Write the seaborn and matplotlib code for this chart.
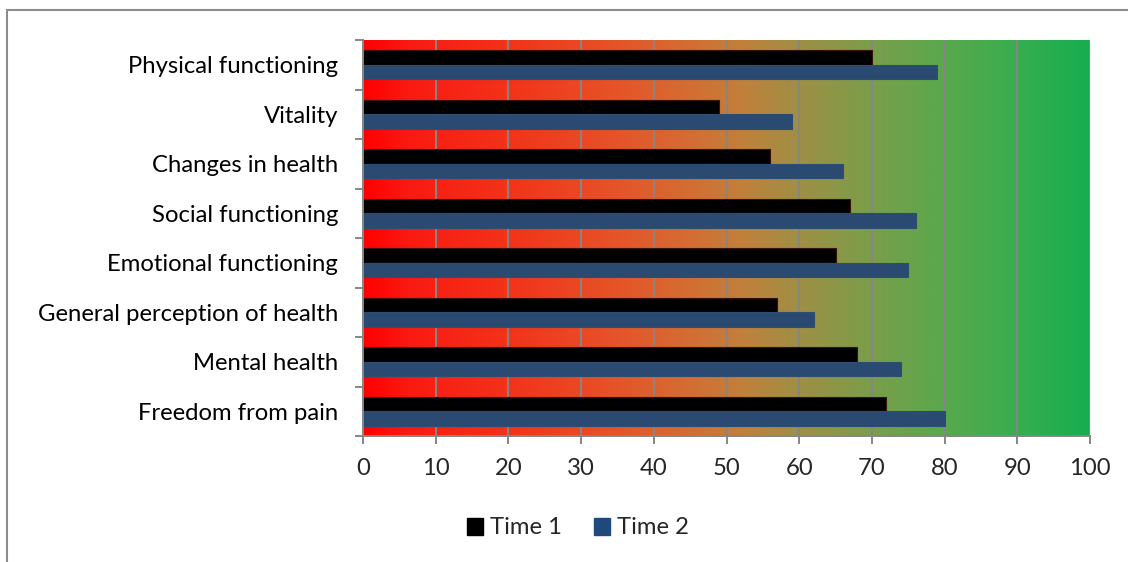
import numpy as np
import pandas as pd
import matplotlib
matplotlib.use("Agg")
import matplotlib.pyplot as plt
from matplotlib.colors import LinearSegmentedColormap
from matplotlib.lines import Line2D
from matplotlib.patches import Patch
import seaborn as sns

categories = ["Physical functioning", "Vitality", "Changes in health", "Social functioning",
              "Emotional functioning", "General perception of health", "Mental health",
              "Freedom from pain"]
time1 = [70, 49, 56, 67, 65, 57, 68, 72]
time2 = [79, 59, 66, 76, 75, 62, 74, 80]
series = ["Time 1", "Time 2"]
xticks = [0, 10, 20, 30, 40, 50, 60, 70, 80, 90, 100]

df = pd.DataFrame({
    "category": categories * 2,
    "value": time1 + time2,
    "series": [series[0]] * len(categories) + [series[1]] * len(categories),
})

sns.set_style("white")
plt.rcParams["font.family"] = ["Lato", "DejaVu Sans"]
fs = 17.2

colors = {"Time 1": "#000000", "Time 2": "#1f497d"}
grid_c = "#868686"

fig = plt.figure(figsize=(11.28, 5.62), dpi=100)
ax = fig.add_axes([363 / 1128, 1 - 436 / 562, 727 / 1128, 396 / 562])

sns.barplot(data=df, y="category", x="value", hue="series", order=categories,
            hue_order=series, palette=colors, orient="h", width=0.578,
            ax=ax, legend=False, zorder=3, linewidth=0.8)
for bar in ax.patches:
    fc = bar.get_facecolor()
    if fc[2] > 0.3:
        bar.set_edgecolor("#2e4d72")
    else:
        bar.set_edgecolor("#3a1010")

ax.set_xlim(0, 100)
ax.set_ylim(len(categories) - 0.5, -0.5)

# red-to-green background
grad = LinearSegmentedColormap.from_list("rg", [
    (0.0, (1.0, 0.0, 0.0)),
    (0.06, (0.98, 0.1, 0.07)),
    (0.2, (0.95, 0.2, 0.1)),
    (0.35, (0.9, 0.33, 0.16)),
    (0.45, (0.83, 0.43, 0.2)),
    (0.52, (0.76, 0.5, 0.23)),
    (0.6, (0.62, 0.56, 0.27)),
    (0.7, (0.48, 0.62, 0.29)),
    (0.8, (0.35, 0.66, 0.3)),
    (0.9, (0.22, 0.68, 0.31)),
    (1.0, (0.09, 0.68, 0.31)),
])
ax.imshow(np.linspace(0, 1, 512).reshape(1, -1), cmap=grad, aspect="auto",
          extent=[0, 100, len(categories) - 0.5, -0.5], zorder=0)

ax.set_xticks(xticks)
ax.set_xticklabels([str(t) for t in xticks])
ax.xaxis.grid(True, color=grid_c, linewidth=1.4)
ax.set_axisbelow(False)
for gl in ax.get_xgridlines():
    gl.set_zorder(1)
ax.yaxis.grid(False)

ax.set_xlabel("")
ax.set_ylabel("")
ax.set_yticks(range(len(categories)))
ax.set_yticklabels(categories)
ax.set_yticks(np.arange(-0.5, len(categories)), minor=True)
ax.tick_params(axis="y", which="major", length=0, pad=18, labelsize=fs, colors="#000000")
ax.tick_params(axis="y", which="minor", length=6, width=1.4, color=grid_c, direction="out", left=True)
ax.tick_params(axis="x", which="major", length=6, width=1.4, color=grid_c, direction="out",
               pad=10, labelsize=fs, bottom=True)

for s in ["top", "right"]:
    ax.spines[s].set_visible(False)
for s in ["left", "bottom"]:
    ax.spines[s].set_color(grid_c)
    ax.spines[s].set_linewidth(1.4)
    ax.spines[s].set_zorder(5)

handles = [Patch(facecolor=colors[s], edgecolor=colors[s]) for s in series]
fig.legend(handles, series, loc="center", bbox_to_anchor=(578 / 1128, 1 - 528 / 562),
           ncol=2, frameon=False, fontsize=fs, handlelength=0.7, handleheight=0.7,
           handletextpad=0.3, columnspacing=1.3)

# outer chart border (top and left edges visible)
fig.add_artist(Line2D([7 / 1128, 1], [1 - 10 / 562, 1 - 10 / 562], transform=fig.transFigure,
                      color="#8c8c8c", linewidth=1.5))
fig.add_artist(Line2D([7 / 1128, 7 / 1128], [0, 1 - 10 / 562], transform=fig.transFigure,
                      color="#8c8c8c", linewidth=1.5))

fig.savefig("out.png", dpi=100)
